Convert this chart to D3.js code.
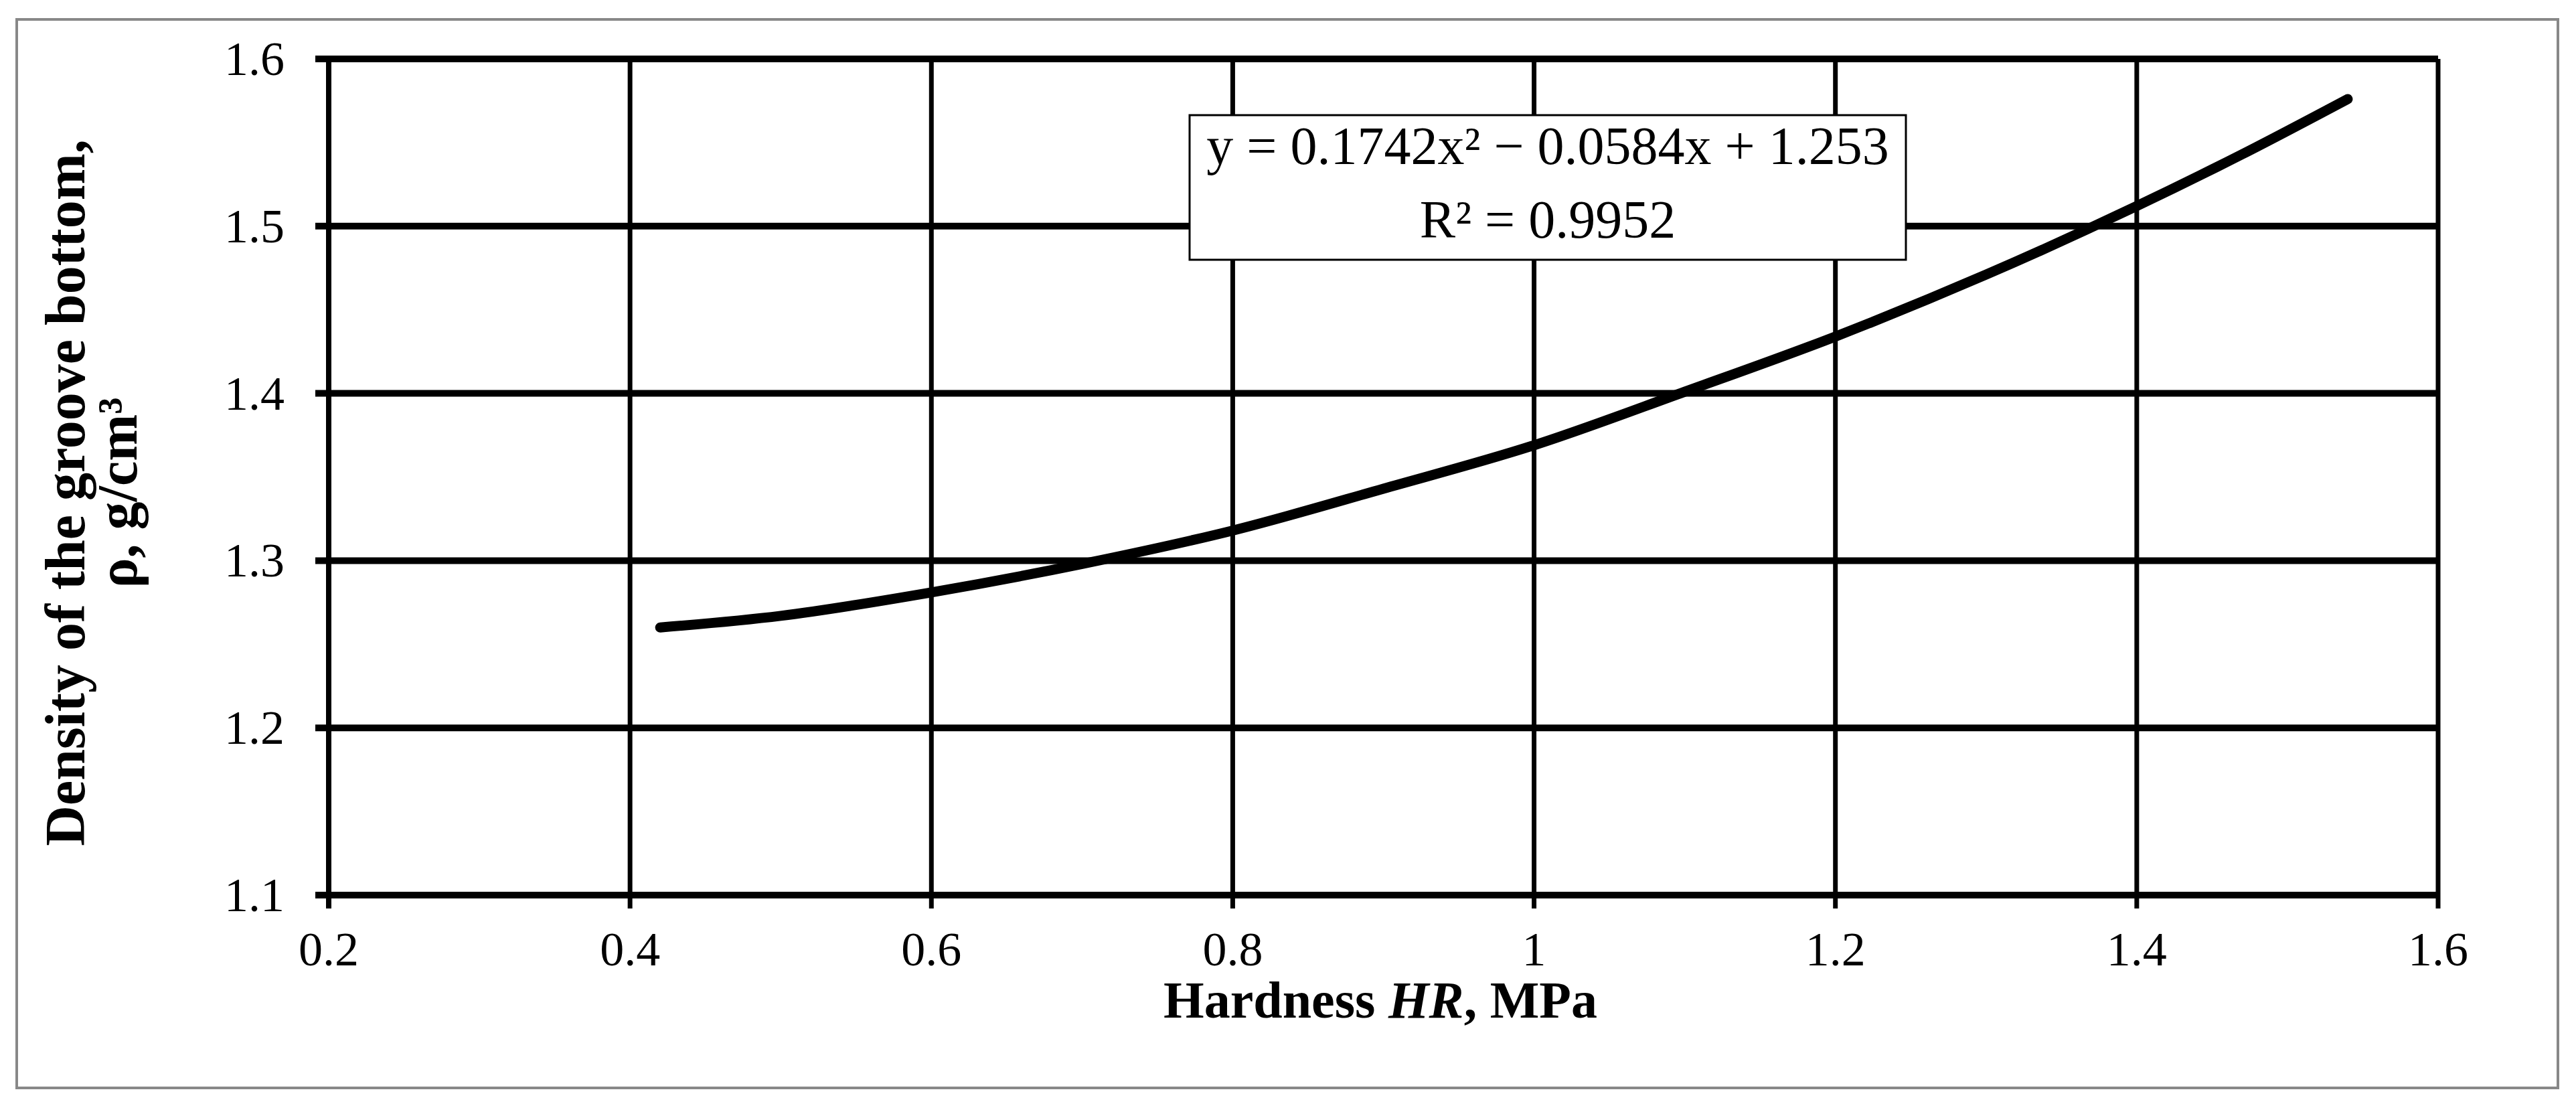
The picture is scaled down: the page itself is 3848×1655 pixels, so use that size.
<!DOCTYPE html>
<html><head><meta charset="utf-8">
<script src="https://cdn.jsdelivr.net/npm/d3@7"></script>
<style>body{margin:0;background:#fff}</style></head>
<body><svg id="c" width="3848" height="1655"></svg>
<script>
const hardness = [0.42,0.5,0.6,0.7,0.8,0.9,1.0,1.1,1.2,1.3,1.4,1.47,1.54];
const density  = [1.260,1.267,1.281,1.298,1.318,1.343,1.369,1.401,1.434,1.471,1.512,1.543,1.576];
const xTicks = [0.2,0.4,0.6,0.8,1,1.2,1.4,1.6];
const yTicks = [1.1,1.2,1.3,1.4,1.5,1.6];

const svg = d3.select("#c");
const F = "'Liberation Serif','Times New Roman',serif";
svg.append("rect").attr("x",25).attr("y",29).attr("width",3796).attr("height",1596)
  .attr("fill","#fff").attr("stroke","#888").attr("stroke-width",4);
const x = d3.scaleLinear().domain([0.2,1.6]).range([491,3642]);
const y = d3.scaleLinear().domain([1.1,1.6]).range([1337,88]);

svg.append("g").selectAll("line").data(xTicks.slice(1)).join("line")
  .attr("x1",d=>x(d)).attr("x2",d=>x(d)).attr("y1",y(1.6)).attr("y2",y(1.1)+20)
  .attr("stroke","#000").attr("stroke-width",7);
svg.append("g").selectAll("line").data(yTicks.slice(1)).join("line")
  .attr("x1",x(0.2)-20).attr("x2",x(1.6)).attr("y1",d=>y(d)).attr("y2",d=>y(d))
  .attr("stroke","#000").attr("stroke-width",10);
svg.append("line").attr("x1",x(0.2)).attr("x2",x(0.2)).attr("y1",y(1.6)).attr("y2",y(1.1)+20).attr("stroke","#000").attr("stroke-width",8);
svg.append("line").attr("x1",x(0.2)-20).attr("x2",x(1.6)+3).attr("y1",y(1.1)).attr("y2",y(1.1)).attr("stroke","#000").attr("stroke-width",10);

svg.append("g").selectAll("text").data(xTicks).join("text")
  .attr("x",d=>x(d)).attr("y",1442).attr("text-anchor","middle")
  .attr("font-family",F).attr("font-size",72).text(d=>d3.format("")(d));
svg.append("g").selectAll("text").data(yTicks).join("text")
  .attr("x",425).attr("y",d=>y(d)+24).attr("text-anchor","end")
  .attr("font-family",F).attr("font-size",72).text(d=>d.toFixed(1));

svg.append("path").datum(hardness.map((h,i)=>[h,density[i]]))
  .attr("d",d3.line().x(d=>x(d[0])).y(d=>y(d[1])).curve(d3.curveMonotoneX))
  .attr("fill","none").attr("stroke","#000").attr("stroke-width",15).attr("stroke-linecap","round");

svg.append("rect").attr("x",1777).attr("y",172).attr("width",1070).attr("height",216)
  .attr("fill","#fff").attr("stroke","#000").attr("stroke-width",3);
svg.append("text").attr("x",2312).attr("y",245).attr("text-anchor","middle").attr("font-family",F).attr("font-size",80)
  .text("y = 0.1742x² − 0.0584x + 1.253");
svg.append("text").attr("x",2312).attr("y",355).attr("text-anchor","middle").attr("font-family",F).attr("font-size",80)
  .text("R² = 0.9952");

svg.append("text").attr("x",2062).attr("y",1520).attr("text-anchor","middle").attr("font-family",F)
  .attr("font-size",78).attr("font-weight","bold")
  .html('Hardness <tspan font-style="italic">HR</tspan>, MPa');
const yl = svg.append("text").attr("transform","translate(0,736) rotate(-90)").attr("text-anchor","middle")
  .attr("font-family",F).attr("font-size",84).attr("font-weight","bold");
yl.append("tspan").attr("x",0).attr("y",126).text("Density of the groove bottom,");
yl.append("tspan").attr("x",0).attr("y",204).text("ρ, g/cm³");
</script></body></html>
